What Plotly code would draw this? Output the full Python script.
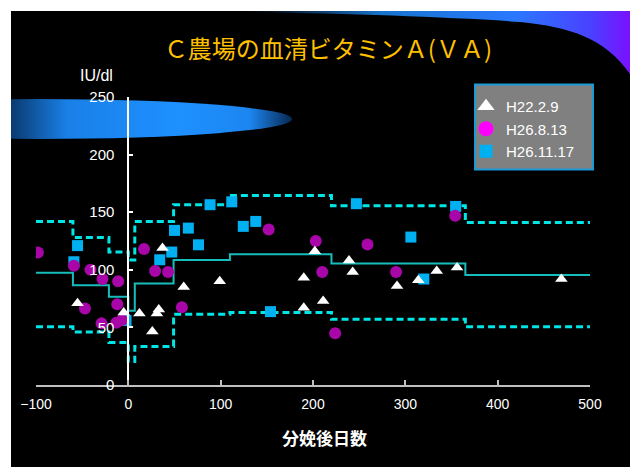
import base64
import plotly.graph_objects as go

# Days relative to calving for the reference band (step points)
step_days = [-100, -60, -21, 0, 7, 49, 110, 220, 365, 500]
band_upper = [142, 128, 115.5, 108.5, 142, 156.5, 164.5, 155.5, 141, 141]
band_mean = [97.5, 86.5, 76.5, 64.5, 88, 108.5, 113.5, 105.5, 95.5, 95.5]
band_lower = [50.5, 46, 37, 20.5, 33.5, 61.5, 63, 57, 50.5, 50.5]

# H22.2.9 survey
h22_days = [-55, -5, 12, 26, 31, 33, 37, 60, 99, 190, 190, 202, 211, 239, 243, 291, 314, 334, 356, 469]
h22_va = [71, 63, 62, 46.5, 62, 65.5, 119, 85, 90, 93, 67, 116, 73, 108, 98, 86, 91, 99, 102, 92]

# H26.8.13 survey
h268_days = [-98, -59, -41, -28, -11, -47, -12, -7, -13, -29, 17, 29, 43, 58, 152, 203, 210, 224, 259, 290, 354]
h268_va = [115, 103.5, 100, 92, 90, 66.5, 70, 56.5, 54, 53.5, 118, 99, 98, 67.5, 135, 125, 98, 45, 122, 98, 147]

# H26.11.17 survey
h2611_days = [-59, -55, -2.5, 34, 47, 50, 65, 76, 88.5, 112, 124.5, 138, 154, 247, 306, 320, 354.5]
h2611_va = [107, 121, 56, 108.7, 115.4, 134.2, 136.2, 121.7, 156.5, 159, 137.7, 142, 63.7, 157.4, 128.4, 92, 155]

series_names = ["H22.2.9", "H26.8.13", "H26.11.17"]
x_ticks = [-100, 0, 100, 200, 300, 400, 500]
y_ticks = [0, 50, 100, 150, 200, 250]

W, H = 630, 467
ML, MR, MT, MB = 36, 40, 97, 82
PW, PH = W - ML - MR, H - MT - MB

# Slide-style backdrop: white frame, black panel, blue ellipse and top-right swoosh
svg = f"""<svg xmlns="http://www.w3.org/2000/svg" width="{W}" height="{H}" viewBox="0 0 {W} {H}">
<defs>
<clipPath id="panel"><rect x="11" y="11" width="{W-11}" height="{H-11}"/></clipPath>
<linearGradient id="ell" gradientUnits="userSpaceOnUse" x1="11" y1="0" x2="292" y2="0">
<stop offset="0" stop-color="#0a3a70"/>
<stop offset="0.2" stop-color="#1a80e8"/>
<stop offset="0.6" stop-color="#1e90ff"/>
<stop offset="0.85" stop-color="#1c86f0"/>
<stop offset="1" stop-color="#082850"/>
</linearGradient>
<linearGradient id="sw" gradientUnits="userSpaceOnUse" x1="248" y1="0" x2="630" y2="0">
<stop offset="0" stop-color="#1e90ff" stop-opacity="0"/>
<stop offset="0.35" stop-color="#1e90ff" stop-opacity="0.8"/>
<stop offset="0.7" stop-color="#2a78ff"/>
<stop offset="0.9" stop-color="#4a40ff"/>
<stop offset="1" stop-color="#7a10ff"/>
</linearGradient>
</defs>
<rect width="{W}" height="{H}" fill="#ffffff"/>
<rect x="11" y="11" width="{W-11}" height="{H-11}" fill="#000000"/>
<g clip-path="url(#panel)">
<ellipse cx="40" cy="119" rx="252" ry="20" fill="url(#ell)"/>
<path d="M248 12 C350 14 450 17 520 22 C570 27 605 38 630 74 L630 11 L248 11 Z" fill="url(#sw)"/>
</g>
</svg>"""
bg_src = "data:image/svg+xml;base64," + base64.b64encode(svg.encode("utf-8")).decode("ascii")

fig = go.Figure()

# Reference band: upper / lower dashed, mean solid
for vals, dash, color, width in [
    (band_upper, "7px,4px", "#00E5E5", 3),
    (band_lower, "7px,4px", "#00E5E5", 3),
    (band_mean, "solid", "#17BDBD", 2),
]:
    fig.add_trace(go.Scatter(
        x=step_days, y=vals, mode="lines",
        line=dict(shape="hv", dash=dash, color=color, width=width),
        showlegend=False, hoverinfo="skip",
    ))

fig.add_trace(go.Scatter(
    x=h2611_days, y=h2611_va, mode="markers", showlegend=False,
    marker=dict(symbol="square", size=11, color="#00B0F0", line=dict(width=0)),
))
fig.add_trace(go.Scatter(
    x=h268_days, y=h268_va, mode="markers", showlegend=False,
    marker=dict(symbol="circle", size=12, color="#A806A8", line=dict(width=0)),
))
fig.add_trace(go.Scatter(
    x=h22_days, y=h22_va, mode="markers", showlegend=False,
    marker=dict(symbol="triangle-up", size=11, color="#FFFFFF", line=dict(width=0)),
))

# Legend keys
for name, sym, col, sz in zip(series_names,
                              ["triangle-up", "circle", "square"],
                              ["#FFFFFF", "#FF00FF", "#00B0F0"],
                              [15, 15, 13]):
    fig.add_trace(go.Scatter(
        x=[None], y=[None], mode="markers", name=name,
        marker=dict(symbol=sym, size=sz, color=col, line=dict(width=0)),
    ))

def px_x(p):
    return (p - ML) / PW

def px_y(p):
    return (H - MB - p) / PH

label_font = "Liberation Sans, Arial, sans-serif"
cjk_font = "Noto Sans CJK JP, sans-serif"

fig.update_layout(
    width=W, height=H,
    margin=dict(l=ML, r=MR, t=MT, b=MB, pad=0),
    paper_bgcolor="#FFFFFF",
    plot_bgcolor="rgba(0,0,0,0)",
    title=dict(
        text="Ｃ農場の血清ビタミンＡ(ＶＡ)",
        x=328 / W, xref="container", xanchor="center",
        y=1 - 50 / H, yref="container", yanchor="middle",
        font=dict(family=cjk_font, size=24, color="#FFC000"),
    ),
    xaxis=dict(
        range=[-100, 500], tickvals=x_ticks,
        showline=True, linecolor="#BFBFBF", linewidth=1.5,
        ticks="inside", ticklen=5, tickcolor="#BFBFBF", tickwidth=1.5,
        showgrid=False, zeroline=False,
        ticklabelstandoff=5,
        tickfont=dict(family=label_font, size=14, color="#FFFFFF"),
    ),
    yaxis=dict(
        range=[0, 250], tickvals=y_ticks,
        anchor="free", position=1 / 6,
        showline=True, linecolor="#FFFFFF", linewidth=2,
        ticks="inside", ticklen=4, tickcolor="#FFFFFF", tickwidth=2,
        showgrid=False, zeroline=False,
        ticklabelstandoff=10,
        tickfont=dict(family=label_font, size=15, color="#FFFFFF"),
    ),
    legend=dict(
        x=px_x(466), y=px_y(90), xanchor="left", yanchor="top",
        bgcolor="rgba(0,0,0,0)", borderwidth=0,
        font=dict(family=label_font, size=15, color="#FFFFFF"),
        itemclick=False, itemdoubleclick=False,
    ),
    shapes=[dict(
        type="rect", xref="paper", yref="paper",
        x0=px_x(475), x1=px_x(593), y0=px_y(169.5), y1=px_y(84.5),
        fillcolor="#808080", line=dict(color="#1B9AD6", width=2), layer="above",
    )],
    annotations=[
        dict(text="IU/dl", xref="paper", yref="paper", x=px_x(96), y=px_y(75),
             xanchor="center", yanchor="middle", showarrow=False,
             font=dict(family="Liberation Sans Narrow, " + label_font, size=16, color="#FFFFFF")),
        dict(text="<b>分娩後日数</b>", xref="paper", yref="paper", x=px_x(324), y=px_y(437),
             xanchor="center", yanchor="middle", showarrow=False,
             font=dict(family=cjk_font, size=17, color="#FFFFFF")),
    ],
    images=[dict(
        source=bg_src, xref="paper", yref="paper",
        x=-ML / PW, y=1 + MT / PH, sizex=W / PW, sizey=H / PH,
        xanchor="left", yanchor="top", sizing="stretch", layer="below",
    )],
)

fig.write_html("out.html")
